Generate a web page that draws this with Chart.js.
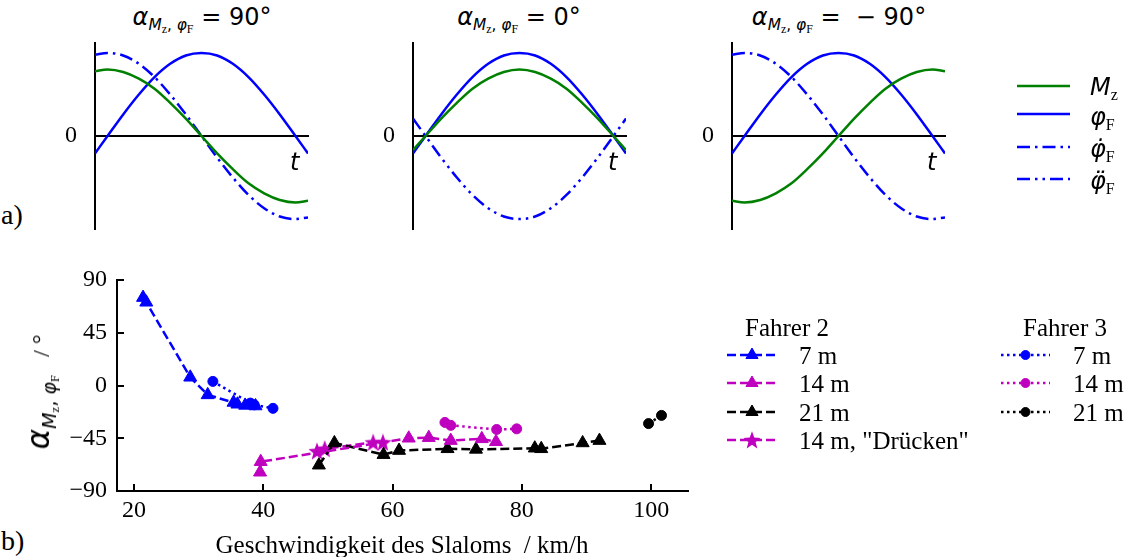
<!DOCTYPE html>
<html>
<head>
<meta charset="utf-8">
<title>Phasenwinkel Mz / phiF</title>
<script src="https://cdn.jsdelivr.net/npm/chart.js@4.4.1/dist/chart.umd.min.js"></script>
<style>
  html, body { margin: 0; padding: 0; background: #fff; }
  #page { position: relative; width: 1129px; height: 557px; overflow: hidden; }
  #page canvas { position: absolute; }
  .t { position: absolute; white-space: nowrap; line-height: 1; color: #000; transform: translate(0, -50%); }
  .c { transform: translate(-50%, -50%); }
  .serif { font-family: "Liberation Serif", serif; }
  .sans { font-family: "DejaVu Sans", sans-serif; }
  .it { font-style: italic; }
  .sub { font-size: 64%; vertical-align: -0.35em; }
  .subsub { font-family: "Liberation Serif", serif; font-size: 78%; vertical-align: -0.3em; }
  .lg { font-size: 25px; }
</style>
</head>
<body>
<div id="page">
  <canvas id="panel1" width="249" height="196" style="left:65px; top:38px"></canvas>
  <canvas id="panel2" width="249" height="196" style="left:383px; top:38px"></canvas>
  <canvas id="panel3" width="249" height="196" style="left:702px; top:38px"></canvas>
  <canvas id="main" width="665" height="270" style="left:40px; top:265px"></canvas>
  <canvas id="keys" width="429" height="400" style="left:700px; top:60px"></canvas>

  <!-- titles a) -->
  <div class="t c sans" style="left:202px; top:20px; font-size:24px"><span class="it">α</span><span class="sub"><span class="it">M</span><span class="subsub">z</span>, <span class="it">φ</span><span class="subsub">F</span></span> = 90°</div>
  <div class="t c sans" style="left:519px; top:20px; font-size:24px"><span class="it">α</span><span class="sub"><span class="it">M</span><span class="subsub">z</span>, <span class="it">φ</span><span class="subsub">F</span></span> = 0°</div>
  <div class="t c sans" style="left:839px; top:20px; font-size:24px"><span class="it">α</span><span class="sub"><span class="it">M</span><span class="subsub">z</span>, <span class="it">φ</span><span class="subsub">F</span></span> = &nbsp;− 90°</div>

  <div class="t sans it" style="left:290px; top:162px; font-size:24px">t</div>
  <div class="t sans it" style="left:608px; top:162px; font-size:24px">t</div>
  <div class="t sans it" style="left:927px; top:162px; font-size:24px">t</div>

  <!-- legend a) -->
  <div class="t sans" style="left:1090px; top:89px; font-size:24px"><span class="it">M</span><span class="serif" style="font-size:16px; vertical-align:-5px">z</span></div>
  <div class="t sans" style="left:1090px; top:119px; font-size:24px"><span class="it">φ</span><span class="serif" style="font-size:16px; vertical-align:-5px">F</span></div>
  <div class="t sans" style="left:1090px; top:151px; font-size:24px"><span class="it">φ&#775;</span><span class="serif" style="font-size:16px; vertical-align:-5px">F</span></div>
  <div class="t sans" style="left:1090px; top:183px; font-size:24px"><span class="it">φ&#776;</span><span class="serif" style="font-size:16px; vertical-align:-5px">F</span></div>

  <div class="t serif" style="left:1px; top:215px; font-size:28px">a)</div>
  <div class="t serif" style="left:1px; top:541px; font-size:28px">b)</div>

  <!-- axis labels b) -->
  <div class="t c serif lg" style="left:402px; top:544px">Geschwindigkeit des Slaloms &nbsp;/ km/h</div>
  <div class="t c" style="left:42px; top:392px; transform:translate(-50%,-50%) rotate(-90deg)"><span class="sans it" style="font-size:31px">α</span><span class="sans" style="font-size:19px; vertical-align:-7px"><span class="it">M</span><span class="serif" style="font-size:13px; vertical-align:-3px">z</span>, <span class="it">φ</span><span class="serif" style="font-size:13px; vertical-align:-3px">F</span></span><span class="serif" style="font-size:24px"> &nbsp;&nbsp;/ °</span></div>

  <!-- legend b) -->
  <div class="t serif lg" style="left:745px; top:327px">Fahrer 2</div>
  <div class="t serif lg" style="left:799px; top:355px">7 m</div>
  <div class="t serif lg" style="left:799px; top:383px">14 m</div>
  <div class="t serif lg" style="left:799px; top:412px">21 m</div>
  <div class="t serif lg" style="left:799px; top:440px">14 m, "Drücken"</div>
  <div class="t serif lg" style="left:1023px; top:327px">Fahrer 3</div>
  <div class="t serif lg" style="left:1073px; top:355px">7 m</div>
  <div class="t serif lg" style="left:1073px; top:383px">14 m</div>
  <div class="t serif lg" style="left:1073px; top:412px">21 m</div>
</div>

<script>
// Colours
const blue = "#0000ff";
const green = "#008000";
const magenta = "#bf00bf";
const black = "#000000";

// a) phase sketches, t in degrees over one half period
const tDeg = [-12, 0, 15, 30, 45, 60, 75, 90, 105, 120, 135, 150, 165, 180, 192];
const phiF = [-0.21, 0, 0.26, 0.5, 0.71, 0.87, 0.97, 1.0, 0.97, 0.87, 0.71, 0.5, 0.26, 0, -0.21];
const phiDot = [0.98, 1.0, 0.97, 0.87, 0.71, 0.5, 0.26, 0, -0.26, -0.5, -0.71, -0.87, -0.97, -1.0, -0.98];
const phiDDot = [0.21, 0, -0.26, -0.5, -0.71, -0.87, -0.97, -1.0, -0.97, -0.87, -0.71, -0.5, -0.26, 0, 0.21];
const mzPlus90 = [0.78, 0.8, 0.77, 0.69, 0.57, 0.4, 0.21, 0, -0.21, -0.4, -0.57, -0.69, -0.77, -0.8, -0.78];
const mzZero = [-0.17, 0, 0.21, 0.4, 0.57, 0.69, 0.77, 0.8, 0.77, 0.69, 0.57, 0.4, 0.21, 0, -0.17];
const mzMinus90 = [-0.78, -0.8, -0.77, -0.69, -0.57, -0.4, -0.21, 0, 0.21, 0.4, 0.57, 0.69, 0.77, 0.8, 0.78];

// b) phase angle over slalom speed
const xTicks = [20, 40, 60, 80, 100];
const yTicks = [-90, -45, 0, 45, 90];

// Fahrer 2 (triangles, dashed)
const f2Speed7 = [21.4, 21.9, 28.7, 31.4, 35.4, 36.0, 37.2, 38.8];
const f2Angle7 = [75, 71, 7, -8, -14.5, -16, -17, -17.5];
const f2Speed14 = [39.5, 39.6, 62.5, 65.6, 69.0, 73.8, 76.0];
const f2Angle14 = [-74, -65, -45, -44.5, -47, -45.5, -48];
const f2Speed21 = [48.6, 51.0, 58.6, 61.0, 68.5, 72.9, 82.0, 83.0, 89.4, 92.0];
const f2Angle21 = [-68, -49, -59, -55.5, -54, -54.5, -53.5, -54, -49, -47];
const f2Speed14D = [48.3, 49.5, 57.0, 58.5];
const f2Angle14D = [-56, -54, -48.5, -48.5];

// Fahrer 3 (circles, dotted)
const f3Speed7 = [32.2, 38.0, 38.6, 41.5];
const f3Angle7 = [3.5, -15, -16.5, -19.5];
const f3Speed14 = [68.1, 69.0, 76.1, 79.2];
const f3Angle14 = [-31.5, -34, -37.5, -37];
const f3Speed21 = [99.6, 101.6];
const f3Angle21 = [-32.5, -25.5];

// Line styles
const dashDot = [13, 5, 2.5, 5];
const dashDotDot = [13, 5, 2.5, 5, 2.5, 5];
const dashed = [9, 4];
const dotted = [2.5, 3.5];

function xy(xs, ys) {
    return xs.map((x, i) => ({ x: x, y: ys[i] }));
}

// Filled five point star used as marker image
function makeStar(size, color) {
    const c = document.createElement("canvas");
    c.width = size;
    c.height = size;
    const g = c.getContext("2d");
    const r = size / 2;
    const ri = r * 0.42;
    g.beginPath();
    for (let k = 0; k < 10; k++) {
        const rad = k % 2 ? ri : r;
        const a = -Math.PI / 2 + (k * Math.PI) / 5;
        g.lineTo(r + rad * Math.cos(a), r + rad * 1.05 * Math.sin(a) + 0.8);
    }
    g.closePath();
    g.fillStyle = color;
    g.fill();
    return c;
}
const starMarker = makeStar(18, magenta);

const serifFont = { family: "Liberation Serif", size: 24 };

function fmtTick(v) {
    return v < 0 ? "\u2212" + Math.abs(v) : String(v);
}

// Keep label overhang from shrinking the plot area
function noPadY(s) {
    s.paddingTop = 0;
    s.paddingBottom = 0;
}
function noPadX(s) {
    s.paddingLeft = 0;
    s.paddingRight = 0;
}

// ---- a) three phase sketches
function makePanel(id, mz, deriv, derivDash) {
    const ctx = document.getElementById(id).getContext("2d");
    return new Chart(ctx, {
        type: "line",
        data: {
            datasets: [
                { data: xy(tDeg, mz), borderColor: green },
                { data: xy(tDeg, phiF), borderColor: blue },
                { data: xy(tDeg, deriv), borderColor: blue, borderDash: derivDash },
            ],
        },
        options: {
            responsive: false,
            animation: false,
            events: [],
            layout: { padding: { top: 5, right: 6, bottom: 5, left: 0 } },
            elements: {
                point: { radius: 0 },
                line: { borderWidth: 2.5, cubicInterpolationMode: "monotone", fill: false },
            },
            plugins: { legend: { display: false }, tooltip: { enabled: false } },
            scales: {
                x: {
                    type: "linear",
                    axis: "x",
                    min: -12,
                    max: 192,
                    position: { y: 0 },
                    afterFit: (s) => { s.height = 0; noPadX(s); },
                    ticks: { display: false },
                    grid: { display: false },
                    border: { color: black, width: 2 },
                },
                y: {
                    type: "linear",
                    min: -1.12,
                    max: 1.12,
                    afterBuildTicks: (s) => { s.ticks = [{ value: 0 }]; },
                    afterFit: (s) => { s.width = 30; noPadY(s); },
                    ticks: { font: serifFont, color: black, padding: 10 },
                    grid: { display: false },
                    border: { color: black, width: 2 },
                },
            },
        },
    });
}

makePanel("panel1", mzPlus90, phiDot, dashDot);
makePanel("panel2", mzZero, phiDDot, dashDotDot);
makePanel("panel3", mzMinus90, phiDot, dashDot);

// ---- b) measurements
function series(xs, ys, color, dash, marker, size) {
    return {
        data: xy(xs, ys),
        showLine: true,
        borderColor: color,
        backgroundColor: color,
        borderDash: dash,
        borderWidth: 2.5,
        pointStyle: marker,
        pointRadius: size,
        pointBackgroundColor: color,
        pointBorderColor: color,
        pointBorderWidth: 1,
    };
}

const mainCtx = document.getElementById("main").getContext("2d");
new Chart(mainCtx, {
    type: "scatter",
    data: {
        datasets: [
            series(f2Speed7, f2Angle7, blue, dashed, "triangle", 7.5),
            series(f2Speed14, f2Angle14, magenta, dashed, "triangle", 7.5),
            series(f2Speed21, f2Angle21, black, dashed, "triangle", 7.5),
            series(f2Speed14D, f2Angle14D, magenta, dashed, starMarker, 9),
            series(f3Speed7, f3Angle7, blue, dotted, "circle", 5),
            series(f3Speed14, f3Angle14, magenta, dotted, "circle", 5),
            series(f3Speed21, f3Angle21, black, dotted, "circle", 5),
        ],
    },
    options: {
        responsive: false,
        animation: false,
        events: [],
        layout: { padding: { top: 15, right: 17, bottom: 0, left: 0 } },
        plugins: { legend: { display: false }, tooltip: { enabled: false } },
        scales: {
            x: {
                type: "linear",
                min: 17.37,
                max: 105.7,
                afterBuildTicks: (s) => { s.ticks = xTicks.map((v) => ({ value: v })); },
                afterFit: (s) => { s.height = 44; noPadX(s); },
                ticks: { font: serifFont, color: black, padding: 12, maxRotation: 0, autoSkip: false },
                grid: { drawOnChartArea: false, tickLength: -7, color: black, lineWidth: 2 },
                border: { color: black, width: 2 },
            },
            y: {
                type: "linear",
                min: -90,
                max: 90,
                afterBuildTicks: (s) => { s.ticks = yTicks.map((v) => ({ value: v })); },
                afterFit: (s) => { s.width = 77; noPadY(s); },
                ticks: { font: serifFont, color: black, padding: 17, callback: fmtTick },
                grid: { drawOnChartArea: false, tickLength: -7, color: black, lineWidth: 2 },
                border: { color: black, width: 2 },
            },
        },
    },
});

// ---- legend keys (page coordinates)
function key(x0, x1, y, color, dash, marker, size) {
    return {
        data: [{ x: x0, y: y }, { x: (x0 + x1) / 2, y: y }, { x: x1, y: y }],
        borderColor: color,
        backgroundColor: color,
        borderDash: dash,
        borderWidth: 2.5,
        pointStyle: marker,
        pointRadius: [0, size, 0],
        pointBackgroundColor: color,
        pointBorderColor: color,
        pointBorderWidth: 1,
        clip: false,
    };
}

const keysCtx = document.getElementById("keys").getContext("2d");
new Chart(keysCtx, {
    type: "line",
    data: {
        datasets: [
            key(1017, 1070, 86, green, [], "circle", 0),
            key(1017, 1070, 114, blue, [], "circle", 0),
            key(1017, 1070, 147, blue, dashDot, "circle", 0),
            key(1017, 1070, 179, blue, dashDotDot, "circle", 0),
            key(727, 777, 355, blue, dashed, "triangle", 7),
            key(727, 777, 383, magenta, dashed, "triangle", 7),
            key(727, 777, 412, black, dashed, "triangle", 7),
            key(727, 777, 440, magenta, dashed, starMarker, 9),
            key(1001, 1050, 355, blue, dotted, "circle", 4.5),
            key(1001, 1050, 383, magenta, dotted, "circle", 4.5),
            key(1001, 1050, 412, black, dotted, "circle", 4.5),
        ],
    },
    options: {
        responsive: false,
        animation: false,
        events: [],
        layout: { padding: 0 },
        plugins: { legend: { display: false }, tooltip: { enabled: false } },
        scales: {
            x: { type: "linear", display: false, min: 700, max: 1129 },
            y: { type: "linear", display: false, min: 60, max: 460, reverse: true },
        },
    },
});
</script>
</body>
</html>
